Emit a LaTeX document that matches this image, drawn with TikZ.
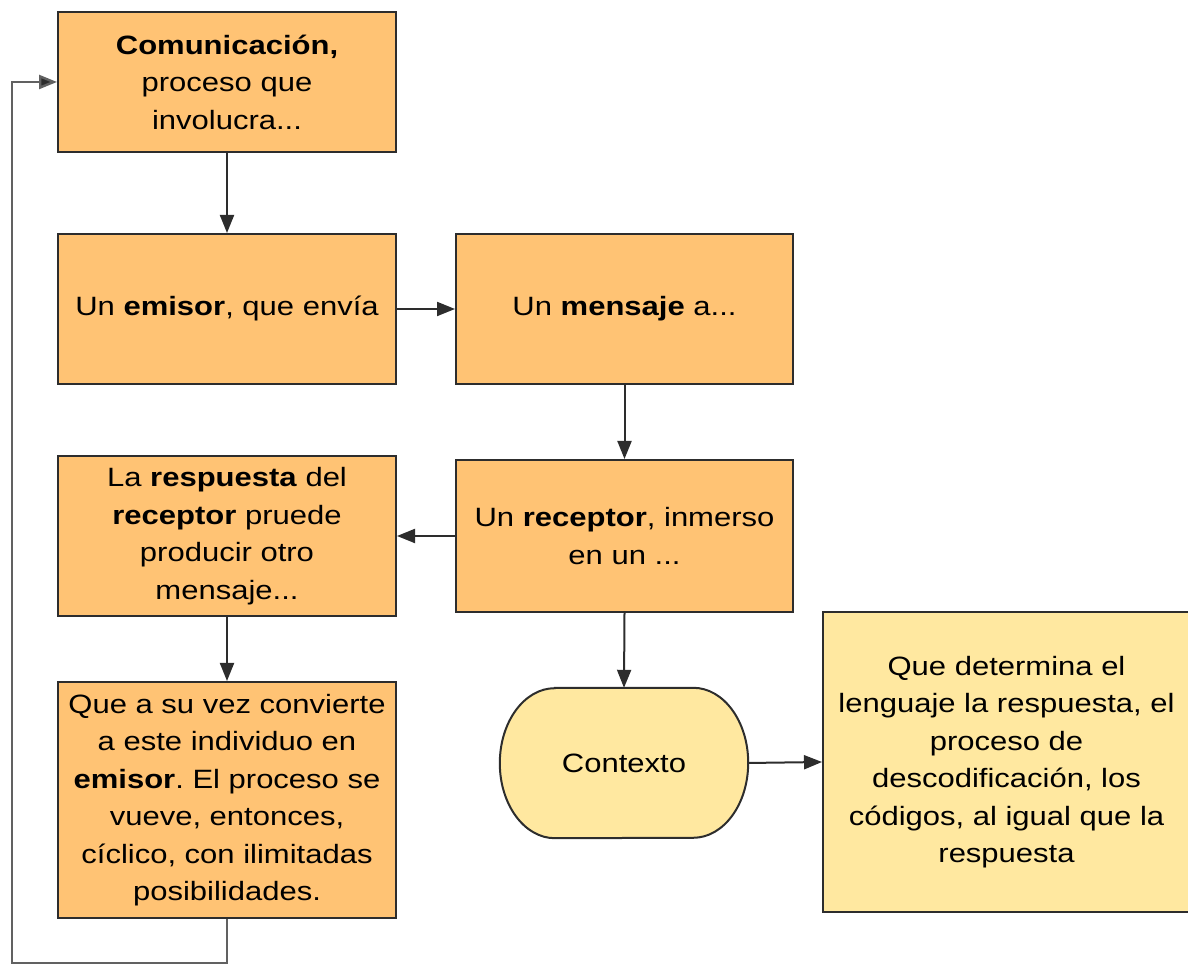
\documentclass[tikz,border=0pt]{standalone}
\usepackage{fontspec}
\setmainfont{Liberation Sans}[FakeStretch=1.17]
\usetikzlibrary{arrows.meta,calc}
\frenchspacing
\definecolor{boxorange}{RGB}{255,195,116}
\definecolor{boxyellow}{RGB}{255,232,160}
\definecolor{edgegray}{RGB}{45,45,45}
\tikzset{
  box/.style={draw=edgegray, line width=2pt, fill=boxorange, align=center,
    inner sep=0pt, font=\fontsize{26.5}{37.5}\selectfont},
  ybox/.style={box, fill=boxyellow},
  conn/.style={draw=edgegray, line width=2pt, -{Triangle[length=18pt,width=14pt,fill=edgegray]}},
}
\begin{document}
\begin{tikzpicture}[x=1pt,y=1pt]
\frenchspacing
\useasboundingbox (0,0) rectangle (1188,965);
% boxes (pixel coords: y_tikz = 965 - y_px)
\node[box, minimum width=338pt, minimum height=140pt] (comm) at (227,883)
  {\textbf{Comunicación,}\\proceso que\\involucra...};
\node[box, minimum width=338pt, minimum height=150pt] (emisor) at (227,656)
  {Un \textbf{emisor}, que envía};
\node[box, minimum width=337pt, minimum height=150pt] (mensaje) at (624.5,656)
  {Un \textbf{mensaje} a...};
\node[box, minimum width=338pt, minimum height=160pt] (resp) at (227,429)
  {La \textbf{respuesta} del\\\textbf{receptor} pruede\\producir otro\\mensaje...};
\node[box, minimum width=337pt, minimum height=152pt] (receptor) at (624.5,429)
  {Un \textbf{receptor}, inmerso\\en un ...};
\node[box, minimum width=338pt, minimum height=236pt] (vez) at (227,165)
  {Que a su vez convierte\\a este individuo en\\\textbf{emisor}. El proceso se\\vueve, entonces,\\cíclico, con ilimitadas\\posibilidades.};
% Contexto terminator
\node[minimum width=248pt, minimum height=150pt, inner sep=0pt] (ctx) at (624,202) {};
\path[draw=edgegray, line width=2pt, fill=boxyellow]
  ($(ctx.north west)+(55,0)$) -- ($(ctx.north east)+(-55,0)$)
  arc[start angle=90, end angle=-90, x radius=55, y radius=75]
  -- ($(ctx.south west)+(55,0)$)
  arc[start angle=270, end angle=90, x radius=55, y radius=75] -- cycle;
\node[font=\fontsize{26.5}{37.5}\selectfont] (ctxlabel) at (ctx.center) {Contexto};
\node[ybox, minimum width=367pt, minimum height=300pt] (det) at (1006.5,203)
  {Que determina el\\lenguaje la respuesta, el\\proceso de\\descodificación, los\\códigos, al igual que la\\respuesta};
% connectors
\draw[conn] (comm.south) -- (emisor.north);
\draw[conn] (emisor.east) -- (mensaje.west);
\draw[conn] (mensaje.south) -- (receptor.north);
\draw[conn] (receptor.west) -- (resp.east);
\draw[conn] (resp.south) -- (vez.north);
\draw[conn] (receptor.south) -- (ctx.north);
\draw[conn] (ctx.east) -- (det.west);
\coordinate (loopA) at (227,2);
\coordinate (loopB) at (12,2);
\coordinate (loopC) at (12,883);
\draw[conn, draw=edgegray!75, line width=2.4pt] (vez.south) -- (loopA) -- (loopB) -- (loopC) -- (comm.west);
\end{tikzpicture}
\end{document}
